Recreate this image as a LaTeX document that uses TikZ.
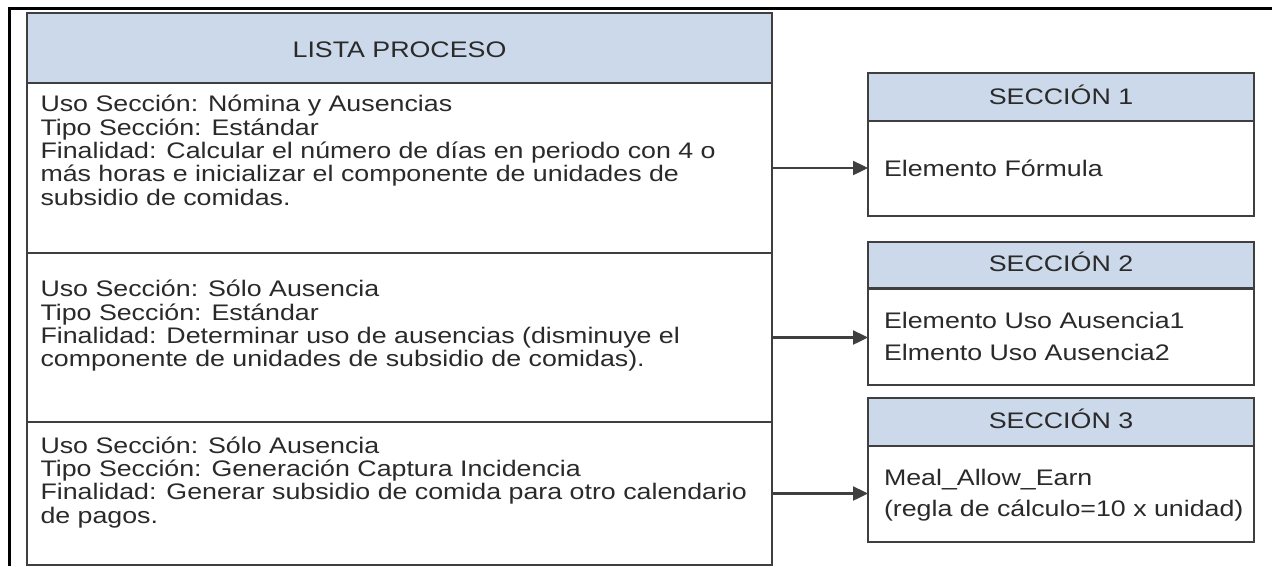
\documentclass[tikz,border=0pt]{standalone}
\usepackage{fontspec}
\setmainfont{Liberation Sans}[FakeStretch=1.19]
\usetikzlibrary{arrows.meta}
\definecolor{hdrfill}{HTML}{CCD9EA}
\definecolor{edgec}{HTML}{3F3F3F}
\definecolor{ink}{HTML}{2A2A2A}
\begin{document}
\begin{tikzpicture}[x=1pt,y=-1pt,
  box/.style={draw=edgec, line width=2.4pt, inner sep=0pt, outer sep=0pt, rectangle},
  hdr/.style={box, fill=hdrfill},
  txt/.style={inner sep=0pt, outer sep=0pt, text=ink, font=\fontsize{22.5}{24}\selectfont},
  conn/.style={draw=edgec, line width=2.4pt, -{Triangle[length=15pt,width=14pt]}},
  frameline/.style={draw=black, line width=3pt}]
\useasboundingbox (0,0) rectangle (1272,566);
\fill[white] (0,0) rectangle (1272,566);
\draw[frameline] (1272,8) -- (9,8) -- (9,566);
% main list
\node[box, minimum width=745pt, minimum height=170pt] (ls1) at (399.5,168) {};
\node[box, minimum width=745pt, minimum height=169pt] (ls2) at (399.5,337.5) {};
\node[box, minimum width=745pt, minimum height=143pt] (ls3) at (399.5,493.5) {};
\node[hdr, minimum width=745pt, minimum height=70pt] (lh) at (399.5,48) {};
\node[txt, anchor=base] (lt) at (399.5,57) {LISTA PROCESO};
\foreach \t [count=\i from 0] in {{Uso Sección: Nómina y Ausencias},{Tipo Sección: Estándar},{Finalidad: Calcular el número de días en periodo con 4 o},{más horas e inicializar el componente de unidades de},{subsidio de comidas.}}
  \node[txt, anchor=base west] (pa\i) at (40.5,111.7+\i*23.33) {\t};
\foreach \t [count=\i from 0] in {{Uso Sección: Sólo Ausencia},{Tipo Sección: Estándar},{Finalidad: Determinar uso de ausencias (disminuye el},{componente de unidades de subsidio de comidas).}}
  \node[txt, anchor=base west] (pb\i) at (40.5,296.7+\i*23.33) {\t};
\foreach \t [count=\i from 0] in {{Uso Sección: Sólo Ausencia},{Tipo Sección: Generación Captura Incidencia},{Finalidad: Generar subsidio de comida para otro calendario},{de pagos.}}
  \node[txt, anchor=base west] (pc\i) at (40.5,453.3+\i*23.33) {\t};
% section boxes
\node[hdr, minimum width=386pt, minimum height=48pt] (h1) at (1061,97) {};
\node[box, minimum width=386pt, minimum height=95pt] (b1) at (1061,168.5) {};
\node[hdr, minimum width=386pt, minimum height=46.5pt] (h2) at (1061,265.25) {};
\node[box, minimum width=386pt, minimum height=96.5pt] (b2) at (1061,336.75) {};
\node[hdr, minimum width=386pt, minimum height=48pt] (h3) at (1061,422) {};
\node[box, minimum width=386pt, minimum height=96pt] (b3) at (1061,494) {};
\node[txt, anchor=base] (t1) at (1061,104.3) {SECCIÓN 1};
\node[txt, anchor=base] (t2) at (1061,271.7) {SECCIÓN 2};
\node[txt, anchor=base] (t3) at (1061,428.8) {SECCIÓN 3};
\node[txt, anchor=base west] (e1) at (884,176.7) {Elemento Fórmula};
\node[txt, anchor=base west] (e2a) at (884,328.3) {Elemento Uso Ausencia1};
\node[txt, anchor=base west] (e2b) at (884,360) {Elmento Uso Ausencia2};
\node[txt, anchor=base west] (e3a) at (884,485) {Meal\_Allow\_Earn};
\node[txt, anchor=base west] (e3b) at (884,516.7) {(regla de cálculo=10 x unidad)};
% connectors
\draw[conn] (ls1.east) -- (ls1.east -| b1.west);
\draw[conn] (ls2.east) -- (ls2.east -| b2.west);
\draw[conn] (ls3.east) -- (ls3.east -| b3.west);
\end{tikzpicture}
\end{document}
